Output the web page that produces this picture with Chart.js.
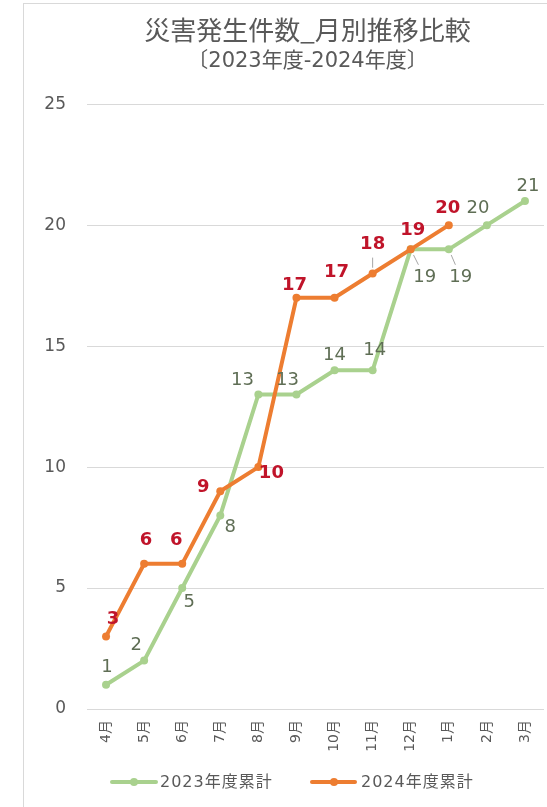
<!DOCTYPE html>
<html>
<head>
<meta charset="utf-8">
<script src="https://cdn.jsdelivr.net/npm/chart.js@4"></script>
<style>
  html, body { margin: 0; padding: 0; background: #fff; overflow: hidden; width: 547px; height: 807px; }
  #frame { position: absolute; left: 23px; top: 3px; width: 600px; height: 820px;
           border-left: 1px solid #d9d9d9; border-top: 1px solid #d9d9d9; }
  #wrap { position: absolute; left: 0; top: 0; width: 567px; height: 803px; }
  #legend { position: absolute; left: 0; top: 770px; width: 547px; height: 24px;
            font: 16px "DejaVu Sans", "Noto Sans CJK JP", sans-serif; color: #595959; }
  .item { position: absolute; top: 0; height: 24px; line-height: 24px; }
  .swatch { position: absolute; top: 10px; height: 4px; border-radius: 2px; }
  .swatch i { position: absolute; left: 50%; top: -2px; width: 8px; height: 8px; margin-left: -4px; border-radius: 4px; }
</style>
</head>
<body>
<div id="frame"><div id="wrap"><canvas id="c"></canvas></div></div>
<div id="legend">
  <div class="item" style="left:110px"><span class="swatch" style="left:0;width:48px;background:#a9d18e"><i style="background:#a9d18e"></i></span><span style="position:absolute;left:50px;white-space:nowrap;letter-spacing:1px">2023年度累計</span></div>
  <div class="item" style="left:310px"><span class="swatch" style="left:0;width:47px;background:#ed7d31"><i style="background:#ed7d31"></i></span><span style="position:absolute;left:51px;white-space:nowrap;letter-spacing:1px">2024年度累計</span></div>
</div>
<script>
// 月別累計の件数
const months = ['4月','5月','6月','7月','8月','9月','10月','11月','12月','1月','2月','3月'];
const fy2023 = [1, 2, 5, 8, 13, 13, 14, 14, 19, 19, 20, 21];
const fy2024 = [3, 6, 6, 9, 10, 17, 17, 18, 19, 20];
const yTicks = [0, 5, 10, 15, 20, 25];

// ラベルの位置ずらし (px)
const off2023 = [[1,-17],[-8,-15],[7,14],[10,12],[-16,-14],[-9,-14],[0,-15],[2,-20],[14,28],[12,28],[-9,-17],[3,-15]];
const off2024 = [[7,-17],[2,-24],[-6,-24],[-17,-4],[13,6],[-2,-12],[2,-25],[0,-29],[2,-19],[-1,-17]];
// 引き出し線 [dataset, index]
const leaders = [[0,8],[0,9],[1,7]];

const green = '#a9d18e';
const orange = '#ed7d31';
const fontFam = '"DejaVu Sans", "Noto Sans CJK JP", sans-serif';
const cjkFam = '"Noto Sans CJK JP", sans-serif';

const labelPlugin = {
  id: 'pointLabels',
  afterDatasetsDraw(chart) {
    const ctx = chart.ctx;
    ctx.save();
    ctx.textAlign = 'center';
    ctx.textBaseline = 'middle';
    // leader lines
    ctx.strokeStyle = '#a6a6a6';
    ctx.lineWidth = 1;
    leaders.forEach(([d, i]) => {
      const p = chart.getDatasetMeta(d).data[i];
      const o = d === 0 ? off2023[i] : off2024[i];
      ctx.beginPath();
      ctx.moveTo(p.x + o[0] * 0.2, p.y + o[1] * 0.2);
      ctx.lineTo(p.x + o[0] * 0.55, p.y + o[1] * 0.55);
      ctx.stroke();
    });
    chart.data.datasets.forEach((ds, d) => {
      const meta = chart.getDatasetMeta(d);
      const offs = d === 0 ? off2023 : off2024;
      ctx.font = d === 0 ? '18px ' + fontFam : 'bold 18px ' + fontFam;
      ctx.fillStyle = d === 0 ? '#5f6e55' : '#c0142a';
      meta.data.forEach((p, i) => {
        ctx.fillText(String(ds.data[i]), p.x + offs[i][0], p.y + offs[i][1]);
      });
    });
    ctx.restore();
  }
};

new Chart(document.getElementById('c').getContext('2d'), {
  type: 'line',
  data: {
    labels: months,
    datasets: [
      {
        label: '2023年度累計',
        data: fy2023,
        borderColor: green,
        backgroundColor: green,
        borderWidth: 4,
        pointRadius: 4,
        pointBorderWidth: 0,
        tension: 0,
        order: 2
      },
      {
        label: '2024年度累計',
        data: fy2024,
        borderColor: orange,
        backgroundColor: orange,
        borderWidth: 4,
        pointRadius: 4,
        pointBorderWidth: 0,
        tension: 0,
        order: 1
      }
    ]
  },
  options: {
    responsive: true,
    maintainAspectRatio: false,
    animation: false,
    layout: { padding: 0 },
    plugins: {
      legend: { display: false },
      tooltip: { enabled: false },
      title: {
        display: true,
        text: '災害発生件数_月別推移比較',
        color: '#595959',
        font: { family: cjkFam, size: 26, weight: 'normal', lineHeight: 1.2 },
        padding: { top: 10.4, bottom: 0 }
      },
      subtitle: {
        display: true,
        text: '〔2023年度-2024年度〕',
        color: '#595959',
        font: { family: fontFam, size: 21, weight: 'normal', lineHeight: 1.2 },
        padding: { top: 3, bottom: 30.4 }
      }
    },
    scales: {
      x: {
        offset: true,
        grid: { display: false, drawTicks: false },
        border: { display: false },
        ticks: {
          color: '#595959',
          font: { family: fontFam, size: 14 },
          minRotation: 90,
          maxRotation: 90,
          padding: 11,
          autoSkip: false
        },
        afterFit(scale) { scale.height = 98; }
      },
      y: {
        min: 0,
        max: 25,
        afterBuildTicks(scale) { scale.ticks = yTicks.map(v => ({ value: v })); },
        grid: { color: '#d9d9d9', drawTicks: false },
        border: { display: false },
        ticks: {
          color: '#595959',
          font: { family: fontFam, size: 17 },
          padding: 21
        },
        afterFit(scale) { scale.width = 63; }
      },
      // 右側の余白用 (表示なし)
      yRight: {
        position: 'right',
        min: 0,
        max: 25,
        grid: { display: false, drawTicks: false },
        border: { display: false },
        ticks: { display: false },
        afterFit(scale) { scale.width = 47; }
      }
    }
  },
  plugins: [labelPlugin]
});
</script>
</body>
</html>
